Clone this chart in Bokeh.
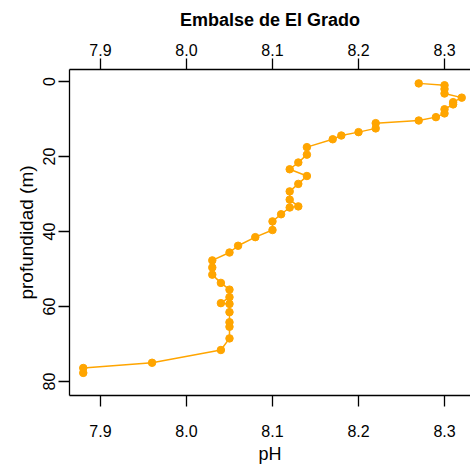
from bokeh.plotting import figure
from bokeh.models import Range1d, LinearAxis, FixedTicker, PrintfTickFormatter
from bokeh.embed import file_html
from bokeh.resources import INLINE

ph = [8.27, 8.30, 8.30, 8.30, 8.32, 8.31, 8.31, 8.30, 8.30, 8.29, 8.27,
      8.22, 8.22, 8.20, 8.18, 8.17, 8.14, 8.14, 8.13, 8.12, 8.14, 8.13,
      8.12, 8.12, 8.13, 8.12, 8.11, 8.10, 8.10, 8.08, 8.06, 8.05, 8.03,
      8.03, 8.03, 8.04, 8.05, 8.05, 8.04, 8.05, 8.05, 8.05, 8.05, 8.05,
      8.04, 7.96, 7.88, 7.88]
depth = [0.5, 1.0, 2.0, 3.2, 4.3, 5.5, 6.1, 7.4, 8.5, 9.5, 10.4,
         11.1, 12.5, 13.5, 14.4, 15.4, 17.5, 19.5, 21.6, 23.4, 25.2, 27.3,
         29.3, 31.5, 33.3, 33.6, 35.4, 37.3, 39.6, 41.5, 43.8, 45.6, 47.7,
         49.6, 51.5, 53.7, 55.5, 57.5, 59.1, 59.3, 61.5, 64.2, 65.4, 68.5,
         71.6, 75.0, 76.4, 77.7]
x_ticks = [7.9, 8.0, 8.1, 8.2, 8.3]
y_ticks = [0, 20, 40, 60, 80]
title = "Embalse de El Grado"

FONT = "Liberation Sans"
COL = "#FFA500"

p = figure(width=470, height=470, output_backend="svg", toolbar_location=None,
           x_range=Range1d(7.864, 8.3302), y_range=Range1d(83.73, -3.2),
           x_axis_location=None, y_axis_location=None,
           min_border_left=69, min_border_right=0, min_border_top=69,
           min_border_bottom=75)
p.outline_line_color = None
p.xgrid.visible = False
p.ygrid.visible = False


def style(ax, standoff):
    ax.ticker = FixedTicker(ticks=x_ticks)
    ax.formatter = PrintfTickFormatter(format="%.1f")
    ax.major_tick_out = 11
    ax.major_tick_in = 0
    ax.minor_tick_line_color = None
    ax.major_label_text_font = FONT
    ax.major_label_text_font_size = "16px"
    ax.major_label_text_color = "black"
    ax.major_label_standoff = standoff
    ax.axis_line_color = "black"
    ax.axis_line_width = 1.3
    ax.major_tick_line_width = 1.3


xb = LinearAxis(axis_label="pH")
style(xb, 18)
xb.axis_label_text_font = FONT
xb.axis_label_text_font_size = "18px"
xb.axis_label_text_font_style = "normal"
xb.axis_label_text_color = "black"
xb.axis_label_standoff = 4
p.add_layout(xb, "below")

xt = LinearAxis(axis_label=title)
style(xt, 3)
xt.axis_label_text_font = FONT
xt.axis_label_text_font_size = "18px"
xt.axis_label_text_font_style = "bold"
xt.axis_label_text_color = "black"
xt.axis_label_standoff = 11
p.add_layout(xt, "above")

yl = LinearAxis(axis_label="profundidad (m)")
yl.ticker = FixedTicker(ticks=y_ticks)
yl.major_tick_out = 11
yl.major_tick_in = 0
yl.minor_tick_line_color = None
yl.major_label_orientation = "vertical"
yl.major_label_text_font = FONT
yl.major_label_text_font_size = "16px"
yl.major_label_text_color = "black"
yl.major_label_standoff = 3
yl.axis_line_width = 1.3
yl.major_tick_line_width = 1.3
yl.axis_label_text_font = FONT
yl.axis_label_text_font_size = "19px"
yl.axis_label_text_font_style = "normal"
yl.axis_label_text_color = "black"
yl.axis_label_standoff = 4
p.add_layout(yl, "left")

p.line(ph, depth, line_color=COL, line_width=1.5)
p.scatter(ph, depth, size=7.5, fill_color=COL, line_color=COL)

open("out.html", "w").write(file_html(p, INLINE))
